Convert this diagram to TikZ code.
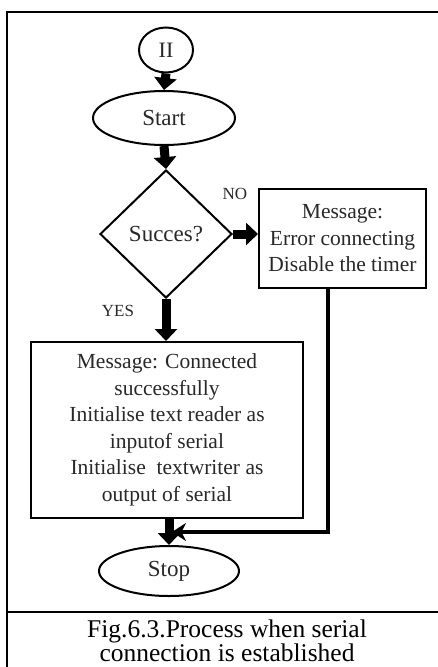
\documentclass[tikz,border=0pt]{standalone}
\usepackage{fontspec}
\setmainfont{Liberation Serif}
\usetikzlibrary{shapes.geometric,arrows.meta}
\definecolor{txt}{RGB}{40,40,40}
\tikzset{
  shp/.style={draw=black, line width=2pt, text=txt, inner sep=0pt},
  term/.style={shp, ellipse, font=\fontsize{23}{26}\selectfont},
  procbox/.style={shp, rectangle, align=center, font=\fontsize{21.5}{26.5}\selectfont},
  decision/.style={shp, diamond, font=\fontsize{23}{26}\selectfont},
  bigarrow/.style={line width=9pt, -{Triangle[width=22pt,length=12pt]}},
  fbline/.style={line width=3.5pt, -{Stealth[width=18pt,length=14pt]}},
  lbl/.style={text=txt, font=\fontsize{17}{20}\selectfont, inner sep=0pt},
  frame/.style={line width=2.2pt},
  caption/.style={font=\fontsize{25.5}{28}\selectfont, inner sep=0pt, anchor=base}
}
\begin{document}
\begin{tikzpicture}[x=1pt,y=-1pt]
\useasboundingbox (0,0) rectangle (438,667);
% frame
\draw[frame] (7,667) -- (7,12) -- (438,12);
\draw[frame] (7,612) -- (438,612);
% nodes
\node[term, minimum width=54pt, minimum height=45pt, font=\fontsize{22}{24}\selectfont] (ii) at (166,50) {II};
\node[term, minimum width=142pt, minimum height=54pt] (start) at (164,118) {Start};
\node[decision, minimum width=132pt, minimum height=128pt] (dec) at (166,234) {Succes?};
\node[procbox, minimum width=167pt, minimum height=99pt] (err) at (342.5,238.5) {Message:\\Error connecting\\Disable the timer};
\node[procbox, minimum width=272pt, minimum height=176pt] (ok) at (167,430) {Message: Connected\\successfully\\Initialise text reader as\\inputof serial\\Initialise\ \ textwriter as\\output of serial};
\node[term, minimum width=140pt, minimum height=50pt] (stop) at (169,571) {Stop};
\coordinate (fb) at (172,532);
% labels
\node[lbl] (no) at (235,194) {NO};
\node[lbl] (yes) at (118,311) {YES};
% connectors
\draw[bigarrow] (ii.south) -- (start.north);
\draw[bigarrow] (start.south) -- (dec.north);
\draw[bigarrow] (dec.east) -- (dec.east -| err.west);
\draw[bigarrow] (dec.south) -- (dec.south |- ok.north);
\draw[bigarrow] (ok.south -| stop.north) -- (stop.north);
\draw[fbline] ([xshift=-14.5pt]err.south) |- (fb);
% caption
\node[caption] (cap1) at (227,637) {Fig.6.3.Process when serial};
\node[caption] (cap2) at (227,661) {connection is established};
\end{tikzpicture}
\end{document}
